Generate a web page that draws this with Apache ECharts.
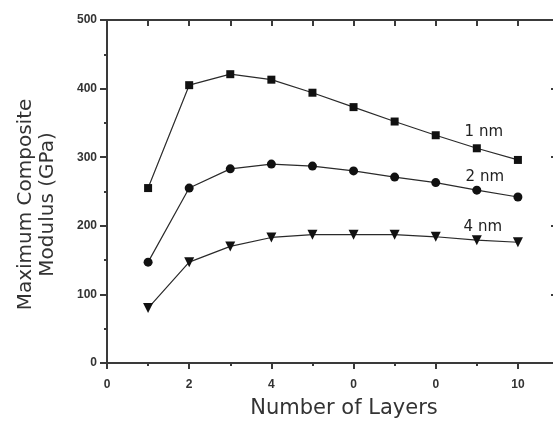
<!DOCTYPE html>
<html><head><meta charset="utf-8">
<script src="https://cdn.jsdelivr.net/npm/echarts@6/dist/echarts.min.js"></script>
<style>html,body{margin:0;padding:0;background:#fff}#c{width:553px;height:421px}</style>
</head><body><div id="c"></div>
<script>
var layers = [1, 2, 3, 4, 5, 6, 7, 8, 9, 10];
var nm1 = [255, 405, 421, 413, 394, 373, 352, 332, 313, 296];
var nm2 = [147, 255, 283, 290, 287, 280, 271, 263, 252, 242];
var nm4 = [80, 147, 170, 183, 187, 187, 187, 184, 179, 176];
var seriesNames = ['1 nm', '2 nm', '4 nm'];
var xTickValues = [0, 2, 4, 6, 8, 10];
var xTickLabels = ['0', '2', '4', '0', '0', '10'];
var yTickLabels = ['0', '100', '200', '300', '400', '500'];

var chart = echarts.init(document.getElementById('c'), null, {renderer: 'canvas'});
var AX = '#3a3a3a';
var FONT = 'DejaVu Sans, Liberation Sans, Arial';
function line() { return {show: true, onZero: false, lineStyle: {color: AX, width: 2}}; }
function mk(name, vals, symbol, size, rot, off) {
  return {
    name: name, type: 'line', symbol: symbol, symbolSize: size, symbolRotate: rot,
    xAxisIndex: 0, yAxisIndex: 0,
    lineStyle: {color: '#2a2a2a', width: 1.2}, itemStyle: {color: '#111'},
    data: layers.map(function (x, i) {
      var d = {value: [x, vals[i]]};
      if (i === 8) {
        d.label = {show: true, formatter: name, position: 'top', offset: off, color: '#222',
          fontFamily: FONT, fontSize: 15};
      }
      return d;
    })
  };
}
chart.setOption({
  animation: false,
  grid: [
    {left: 107, top: 20, right: -6, bottom: 58, outerBoundsMode: 'none'},
    {left: 107, top: 14, right: -6, height: 6, outerBoundsMode: 'none'}
  ],
  xAxis: [{
    gridIndex: 0, type: 'value', min: 0, max: 11, interval: 2, position: 'bottom',
    axisLine: line(),
    axisTick: {show: true, inside: false, length: 6, lineStyle: {color: AX, width: 2}},
    minorTick: {show: true, splitNumber: 2, length: 3, lineStyle: {color: AX, width: 2}},
    splitLine: {show: false},
    axisLabel: {
      color: '#333', fontFamily: 'Liberation Sans, Arial', fontSize: 12, fontWeight: 'bold', margin: 16,
      formatter: function (v) { var i = xTickValues.indexOf(v); return i >= 0 ? xTickLabels[i] : ''; }
    },
    name: 'Number of Layers', nameLocation: 'middle', nameGap: 35,
    nameTextStyle: {color: '#333', fontFamily: FONT, fontSize: 21, padding: [0, 0, 0, 22]}
  }, {
    gridIndex: 0, type: 'value', min: 0, max: 11, interval: 1, position: 'top',
    axisLine: line(),
    axisTick: {show: false},
    axisLabel: {show: false}, splitLine: {show: false}
  }, {
    gridIndex: 1, type: 'value', min: 0, max: 11, interval: 1, position: 'bottom',
    axisLine: {show: false, onZero: false},
    axisTick: {show: true, inside: false, length: 6, lineStyle: {color: AX, width: 2}},
    axisLabel: {show: false}, splitLine: {show: false}
  }],
  yAxis: [{
    gridIndex: 0, type: 'value', min: 0, max: 500, interval: 100, position: 'left',
    axisLine: line(),
    axisTick: {show: true, inside: false, length: 7, lineStyle: {color: AX, width: 2}},
    minorTick: {show: true, splitNumber: 2, length: 3, lineStyle: {color: AX, width: 2}},
    splitLine: {show: false},
    axisLabel: {
      color: '#333', fontFamily: 'Liberation Sans, Arial', fontSize: 12, fontWeight: 'bold', margin: 10,
      formatter: function (v) { return yTickLabels[Math.round(v / 100)]; }
    },
    name: 'Maximum Composite\nModulus (GPa)', nameLocation: 'middle', nameGap: 48,
    nameTextStyle: {color: '#333', fontFamily: FONT, fontSize: 20, lineHeight: 22, padding: [0, 26, 0, 0]}
  }, {
    gridIndex: 0, type: 'value', min: 0, max: 500, interval: 100, position: 'right',
    axisLine: line(),
    axisTick: {show: true, inside: true, length: 8, lineStyle: {color: AX, width: 2}},
    axisLabel: {show: false}, splitLine: {show: false}
  }, {
    gridIndex: 1, type: 'value', min: 0, max: 1, show: false
  }],
  series: [
    mk(seriesNames[0], nm1, 'rect', 8, 0, [7, 0]),
    mk(seriesNames[1], nm2, 'circle', 9, 0, [8, 4]),
    mk(seriesNames[2], nm4, 'triangle', 10, 180, [6, 4]),
    {type: 'line', xAxisIndex: 1, yAxisIndex: 0, data: [[0, 0]], symbol: 'none', silent: true, lineStyle: {opacity: 0}},
    {type: 'line', xAxisIndex: 0, yAxisIndex: 1, data: [[0, 0]], symbol: 'none', silent: true, lineStyle: {opacity: 0}},
    {type: 'line', xAxisIndex: 2, yAxisIndex: 2, data: [[0, 0]], symbol: 'none', silent: true, lineStyle: {opacity: 0}}
  ]
});
</script>
</body></html>
